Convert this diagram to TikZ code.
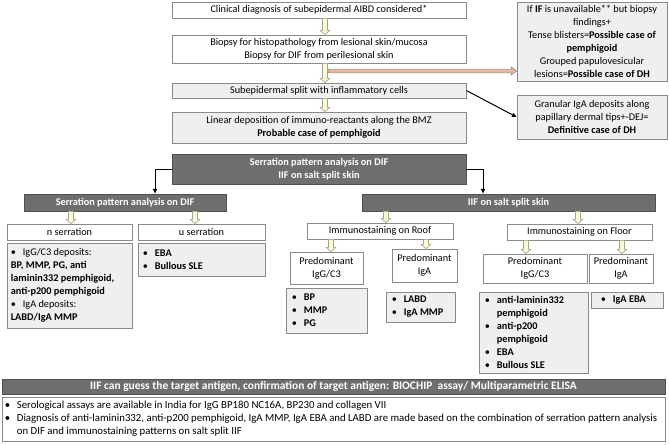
\documentclass[tikz,border=0pt]{standalone}
\usepackage{fontspec}
\setmainfont{Carlito}
\usetikzlibrary{calc,arrows.meta}
\definecolor{bord}{HTML}{8A8A8A}
\definecolor{lgray}{HTML}{EFEFEF}
\definecolor{dgray}{HTML}{6E6E6E}
\definecolor{dbord}{HTML}{505050}
\definecolor{harrf}{HTML}{FCF9D6}
\definecolor{harrb}{HTML}{A3A38A}
\definecolor{oarrf}{HTML}{E8B79C}
\definecolor{oarrb}{HTML}{9A8A80}
\newcommand\fs{\fontsize{7.7}{9.75}\selectfont}
\newcommand\fsb{\fontsize{8.1}{9.75}\selectfont}
\newcommand\fsbar{\fontsize{8.6}{9.75}\selectfont}
\newcommand\mybul{\makebox[9pt][l]{\textbullet}}
\newcommand\myind{\hspace*{9pt}}
\newcommand\mybox[7]{\node[#6, minimum width={(#4-#2)*0.75pt}, minimum height={(#5-#3)*0.75pt}] (#1) at ({(#2+#4)/2},{(#3+#5)/2}) {#7};}
\newcommand\hollowarr[3]{\path[hollow] let \p0=(#1,0), \p1=(#2), \p2=(#3) in (\x0-1.9pt,\y1) -- (\x0-1.9pt,\y2+3.2pt) -- (\x0-3.6pt,\y2+3.2pt) -- (\x0,\y2) -- (\x0+3.6pt,\y2+3.2pt) -- (\x0+1.9pt,\y2+3.2pt) -- (\x0+1.9pt,\y1) -- cycle;}
\tikzset{
 base/.style={draw=bord, line width=0.6pt, inner sep=0pt, align=center, font=\fs},
 wbox/.style={base, fill=white},
 gbox/.style={base, fill=lgray},
 dbox/.style={base, fill=dgray, draw=dbord, text=white, font=\fs\bfseries},
 ltext/.style={inner sep=0pt, align=left, font=\fs, anchor=west},
 hollow/.style={draw=harrb, fill=harrf, line width=0.5pt},
 oarr/.style={draw=oarrb, fill=oarrf, line width=0.5pt},
 blk/.style={draw=black, line width=0.75pt, -{Triangle[length=3.5pt,width=3pt]}},
}
\begin{document}
\begin{tikzpicture}[x=0.75pt,y=-0.75pt]
\fill[white] (0,0) rectangle (669,444);
\useasboundingbox (0,0) rectangle (669,444);
% top column
\mybox{b1}{172}{2}{466}{18}{wbox}{Clinical diagnosis of subepidermal AIBD considered*}
\mybox{b2}{172}{35}{466}{63}{wbox}{Biopsy for histopathology from lesional skin/mucosa\\Biopsy for DIF from perilesional skin}
\mybox{b3}{172}{83}{466}{98}{gbox}{Subepidermal split with inflammatory cells}
\mybox{b4}{172}{112}{466}{143}{gbox}{Linear deposition of immuno-reactants along the BMZ\\\textbf{Probable case of pemphigoid}}
\mybox{ra}{517}{2}{667}{81}{gbox}{If \textbf{IF} is unavailable** but biopsy\\findings+\\Tense blisters=\textbf{Possible case of}\\\textbf{pemphigoid}\\Grouped papulovesicular\\lesions=\textbf{Possible case of DH}}
\mybox{rb}{517}{95}{667}{139}{gbox}{Granular IgA deposits along\\papillary dermal tips+-DEJ=\\\textbf{Definitive case of DH}}
% dark boxes
\mybox{c}{172}{154}{466}{184}{dbox}{Serration pattern analysis on DIF\\IIF on salt split skin}
\mybox{d}{24}{194}{226}{211}{dbox}{Serration pattern analysis on DIF}
\mybox{e}{362}{194}{655}{211}{dbox}{IIF on salt split skin}
% second level
\mybox{ns}{7}{224}{132}{240}{wbox}{n serration}
\mybox{us}{138}{224}{265}{240}{wbox}{u serration}
\mybox{roof}{307}{223}{453}{239}{wbox}{Immunostaining on Roof}
\mybox{floor}{507}{224}{652}{240}{wbox}{Immunostaining on Floor}
\mybox{rg}{290}{252}{363}{284}{wbox}{Predominant\\IgG/C3}
\mybox{rai}{392}{249}{457}{282}{wbox}{Predominant\\IgA}
\mybox{fg}{483}{254}{587}{283}{wbox}{Predominant\\IgG/C3}
\mybox{fai}{589}{254}{653}{283}{wbox}{Predominant\\IgA}
% lists
\mybox{nl}{7}{243}{132}{328}{gbox}{}
\node[ltext] (nlt) at ($(nl.west)+(4,0)$) {\mybul IgG/C3 deposits:\\\textbf{BP, MMP, PG, anti}\\\textbf{laminin332 pemphigoid,}\\\textbf{anti-p200 pemphigoid}\\\mybul IgA deposits:\\\textbf{LABD/IgA MMP}};
\mybox{ul}{138}{243}{265}{276}{gbox}{}
\node[ltext] (ult) at ($(ul.west)+(5,0)$) {\mybul\textbf{EBA}\\\mybul\textbf{Bullous SLE}};
\mybox{rgl}{286}{288}{367}{333}{gbox}{}
\node[ltext] (rglt) at ($(rgl.west)+(6,0)$) {\mybul\textbf{BP}\\\mybul\textbf{MMP}\\\mybul\textbf{PG}};
\mybox{ral}{386}{292}{455}{322}{gbox}{}
\node[ltext] (ralt) at ($(ral.west)+(6,0)$) {\mybul\textbf{LABD}\\\mybul\textbf{IgA MMP}};
\mybox{fgl}{479}{292}{588}{373}{gbox}{}
\node[ltext] (fglt) at ($(fgl.west)+(6,0)$) {\mybul\textbf{anti-laminin332}\\\myind\textbf{pemphigoid}\\\mybul\textbf{anti-p200}\\\myind\textbf{pemphigoid}\\\mybul\textbf{EBA}\\\mybul\textbf{Bullous SLE}};
\mybox{fal}{591}{292}{663}{308}{gbox}{}
\node[ltext] (falt) at ($(fal.west)+(10,0)$) {\mybul\textbf{IgA EBA}};
% bottom
\mybox{bar}{2}{379}{665}{394}{dbox}{\fsbar IIF can guess the target antigen, confirmation of target antigen: BIOCHIP~ assay/ Multiparametric ELISA}
\mybox{note}{2}{397}{665}{441}{wbox}{}
\node[ltext, font=\fsb] (notet) at ($(note.west)+(3,0)$) {\mybul Serological assays are available in India for IgG BP180 NC16A, BP230 and collagen VII\\\mybul Diagnosis of anti-laminin332, anti-p200 pemphigoid, IgA MMP, IgA EBA and LABD are made based on the combination of serration pattern analysis\\\myind on DIF and immunostaining patterns on salt split IIF};
% connectors
\coordinate (ostart) at (328,71);
\path[oarr] let \p1=(ostart), \p2=(ra.west) in (\x1,\y1+1.4pt) -- (\x2-4pt,\y1+1.4pt) -- (\x2-4pt,\y1+3pt) -- (\x2,\y1) -- (\x2-4pt,\y1-3pt) -- (\x2-4pt,\y1-1.4pt) -- (\x1,\y1-1.4pt) -- cycle;
\hollowarr{325}{b1.south}{b2.north}
\hollowarr{325}{b2.south}{b3.north}
\hollowarr{325}{b3.south}{b4.north}
\draw[blk] (b3.east) -- (rb.west);
\draw[blk] (c.west) -| ($(d.north)+(30,0)$);
\draw[blk] (c.east) -| ($(e.north)+(-25.5,0)$);
\hollowarr{71}{d.south}{ns.north}
\hollowarr{195}{d.south}{us.north}
\hollowarr{386}{e.south}{roof.north}
\hollowarr{578}{e.south}{floor.north}
\hollowarr{331}{roof.south}{rg.north}
\hollowarr{426}{roof.south}{rai.north}
\hollowarr{526}{floor.south}{fg.north}
\hollowarr{622}{floor.south}{fai.north}
\end{tikzpicture}
\end{document}
